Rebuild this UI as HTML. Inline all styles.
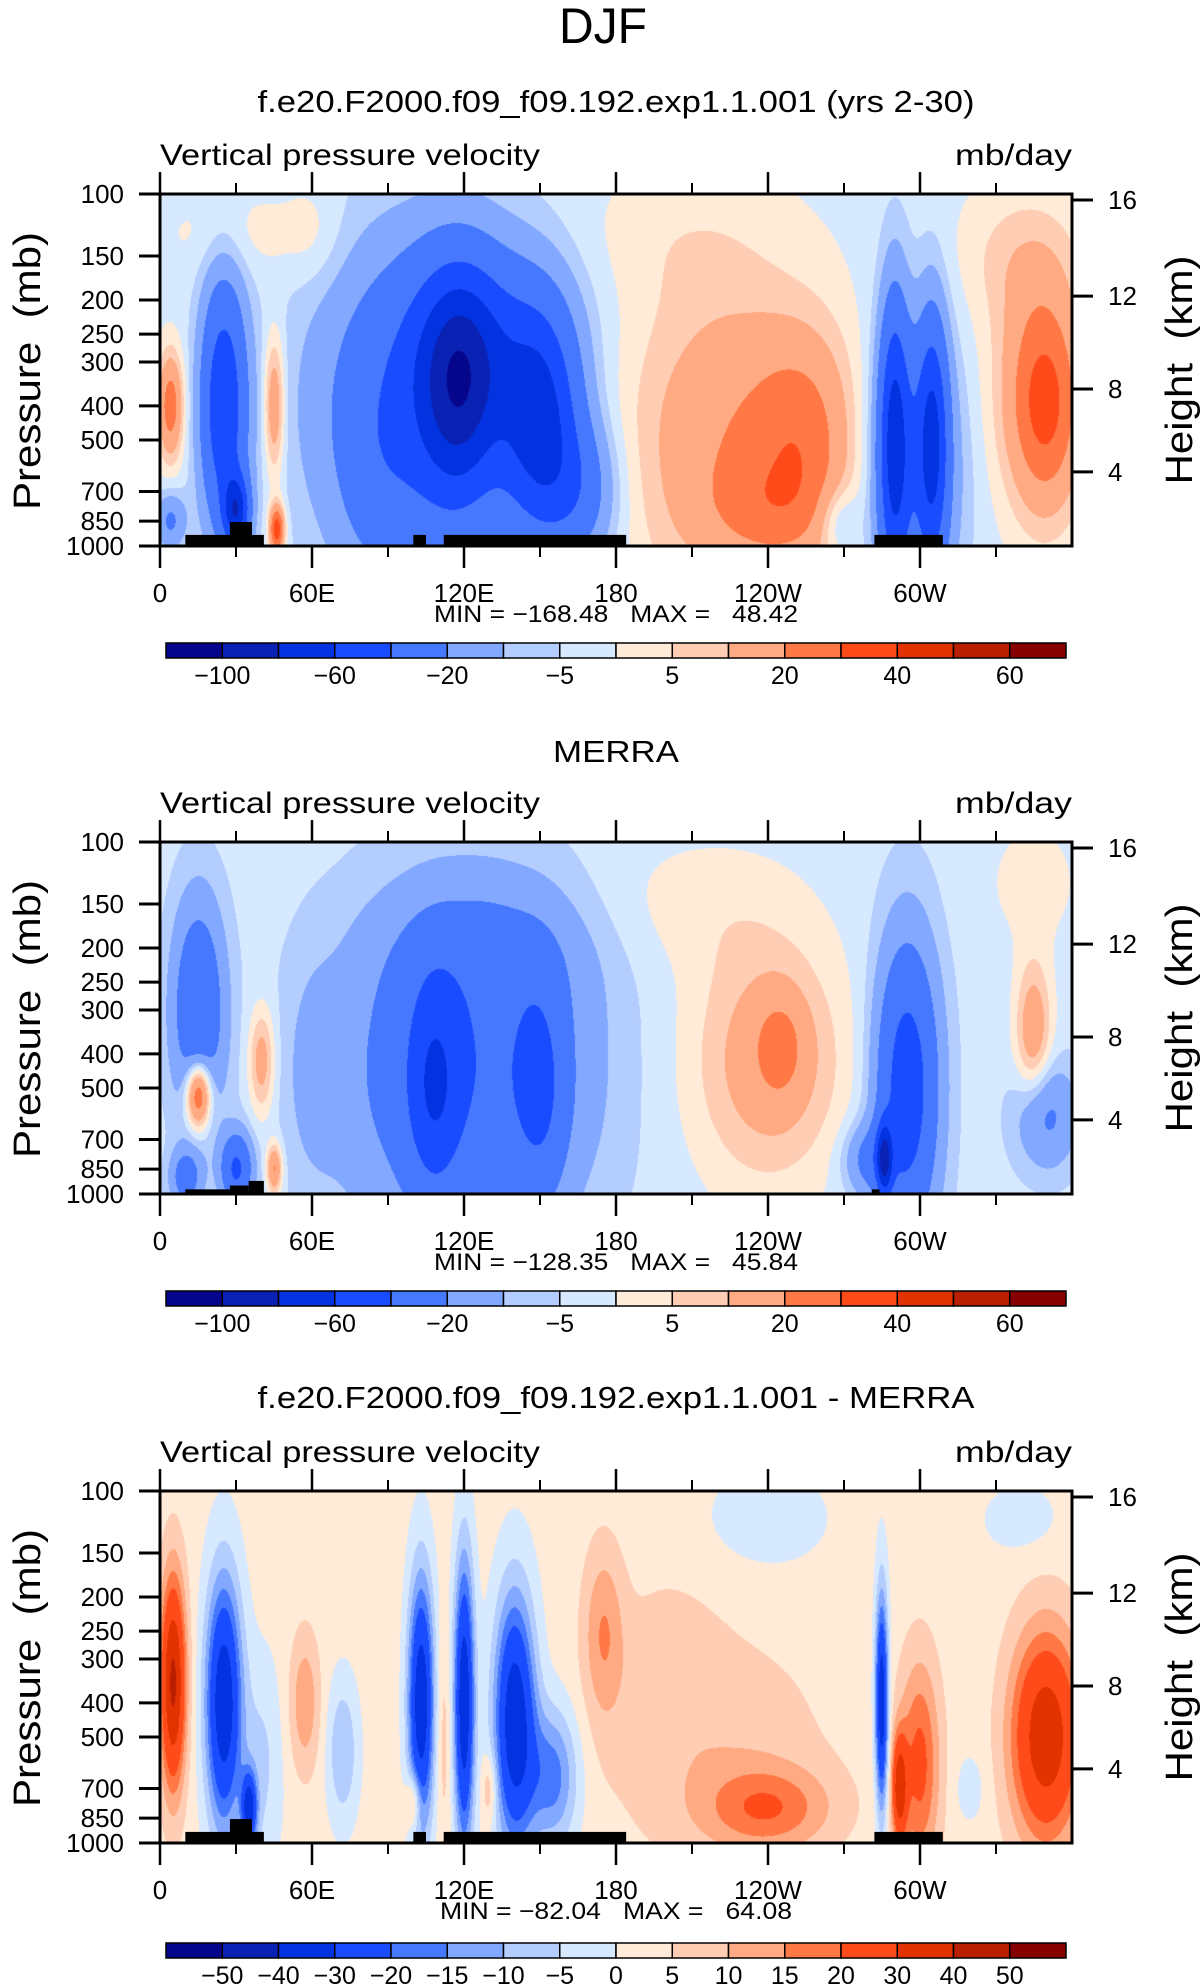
<!DOCTYPE html>
<html><head><meta charset="utf-8"><style>
html,body{margin:0;padding:0;background:#fff;}
#wrap{position:relative;width:1203px;height:1987px;overflow:hidden;background:#fff;}
canvas{position:absolute;left:160px;}
svg{position:absolute;left:0;top:0;}
text{font-family:"Liberation Sans",sans-serif;fill:#000;white-space:pre;}
</style></head><body>
<div id="wrap">
<canvas id="c0" width="912" height="352" style="top:194px"></canvas>
<canvas id="c1" width="912" height="352" style="top:842px"></canvas>
<canvas id="c2" width="912" height="352" style="top:1491px"></canvas>
<svg id="ov" width="1203" height="1987">
<text x="603" y="43" font-size="50" text-anchor="middle" textLength="88" lengthAdjust="spacingAndGlyphs">DJF</text>
</svg>
</div>
<script>
// ---------- data ----------
const LEV_A = [-100,-80,-60,-40,-20,-10,-5,0,5,10,20,30,40,50,60];
const LEV_D = [-50,-40,-30,-20,-15,-10,-5,0,5,10,15,20,30,40,50];
const LAB_A = ['−100','−60','−20','−5','5','20','40','60'];
const LAB_A_IDX = [0,2,4,6,8,10,12,14];
const LAB_D = ['−50','−40','−30','−20','−15','−10','−5','0','5','10','15','20','30','40','50'];
const COLORS = ['#06068c','#0a22b4','#0333e0','#1a4cff','#4678ff','#82a8ff','#b4cdff','#d7e9ff','#ffebd7','#ffcdb4','#ffaa82','#ff7846','#ff4b19','#e13200','#b91e00','#870000'];
const P_TICKS = [100,150,200,250,300,400,500,700,850,1000];
const H_TICKS = [4,8,12,16];
const H_PRESS = [616,358,195,104];
const LON_MAJOR = [0,60,120,180,240,300];
const LON_LABELS = ['0','60E','120E','180','120W','60W'];
const LON_MINOR = [30,90,150,210,270,330];
const TITLES = ['f.e20.F2000.f09_f09.192.exp1.1.001 (yrs 2-30)','MERRA','f.e20.F2000.f09_f09.192.exp1.1.001 - MERRA'];
const MINMAX = ['MIN = −168.48   MAX =   48.42','MIN = −128.35   MAX =   45.84','MIN = −82.04   MAX =   64.08'];
const BG = [-2,-3,2];
// blobs: lon, pressure, amplitude, lon-width, logp-width
const P0_LON=[4,4,25,30,45,46,30,105,118,150,130,165,225,255,240,205,290,305,298,350,340,268,85,60,345];
const P0_P  =[400,850,400,800,400,900,130,400,350,450,250,700,500,500,800,130,500,500,600,400,150,850,700,130,350];
const P0_AMP=[28,-20,-55,-60,22,40,5,-40,-55,-55,-20,-25,20,18,10,4,-55,-50,-25,28,8,-12,-8,5,10];
const P0_SX =[5,6,9,5,4,3,25,40,15,15,30,15,40,20,25,40,6,6,18,14,25,8,15,12,20];
const P0_SU =[.15,.08,.35,.1,.2,.07,.12,.45,.3,.3,.25,.2,.45,.3,.15,.2,.4,.35,.4,.3,.2,.1,.3,.15,.35];
const P1_LON=[15,15,40,45,30,10,120,108,150,130,240,245,210,280,295,286,345,350,345,60];
const P1_P  =[300,520,420,850,850,900,450,500,500,200,420,380,150,800,500,800,350,600,130,450];
const P1_AMP=[-35,45,18,25,-40,-25,-35,-30,-25,-10,18,12,5,-20,-50,-60,20,-20,5,-6];
const P1_SX =[10,5,5,3,6,6,45,10,10,40,30,10,40,10,12,3,7,12,20,10];
const P1_SU =[.3,.1,.15,.07,.1,.08,.45,.3,.3,.2,.35,.15,.2,.1,.4,.1,.2,.15,.2,.3];
const P2_LON=[5,25,35,57,40,72,103,120,140,155,112,130,100,175,240,220,240,285,292,300,350,340,320,200];
const P2_P  =[350,400,800,400,600,550,400,400,450,650,500,700,760,250,800,550,120,400,700,600,500,120,700,300];
const P2_AMP=[40,-40,-35,12,-8,-12,-40,-40,-40,-20,6,10,15,12,15,6.5,-5,-40,30,20,35,-5,-5,4];
const P2_SX =[5,7,3,6,8,6,5,4,8,10,3,3,3,8,25,45,25,2.5,3,8,14,15,6,20];
const P2_SU =[.3,.35,.1,.2,.3,.2,.35,.4,.35,.2,.3,.1,.08,.25,.12,.35,.15,.3,.15,.3,.3,.1,.1,.25];
const TERR0_L0=[10,27.6,100,112,282], TERR0_L1=[41,36.3,105,184,309], TERR0_P=[930,855,930,930,930];
const TERR1_L0=[10,27.6,35,281], TERR1_L1=[27.6,35,41,284], TERR1_P=[970,946,918,970];

// ---------- geometry ----------
const X0=160, X1=1072, PT=194, PB=546;
const OFF=[0,648,1297];
function xOf(lon){return X0+lon/360*(X1-X0);}
function uOf(p){return Math.log10(p/100);}
function yOf(p,k){return OFF[k]+PT+uOf(p)*(PB-PT);}
const NS='http://www.w3.org/2000/svg';
const svg=document.getElementById('ov');
function mk(tag,attrs,parent){const e=document.createElementNS(NS,tag);for(const a in attrs)e.setAttribute(a,attrs[a]);(parent||svg).appendChild(e);return e;}
function hex(c){return [parseInt(c.substr(1,2),16),parseInt(c.substr(3,2),16),parseInt(c.substr(5,2),16)];}
const RGB=COLORS.map(hex);

function drawField(k,L,P,A,SX,SU,lev){
  const cv=document.getElementById('c'+k),ctx=cv.getContext('2d');
  const W=cv.width,H=cv.height,img=ctx.createImageData(W,H);
  const U=P.map(uOf);
  for(let j=0;j<H;j++){const u=j/(H-1);
    for(let i=0;i<W;i++){const lon=i/(W-1)*360;let v=BG[k];
      for(let b=0;b<L.length;b++){const dx=(lon-L[b])/SX[b],du=(u-U[b])/SU[b];const q=dx*dx+du*du;if(q<12)v+=A[b]*Math.exp(-q);}
      let idx=0;while(idx<lev.length&&v>=lev[idx])idx++;
      const c=RGB[idx],o=(j*W+i)*4;img.data[o]=c[0];img.data[o+1]=c[1];img.data[o+2]=c[2];img.data[o+3]=255;}}
  ctx.putImageData(img,0,0);
}
drawField(0,P0_LON,P0_P,P0_AMP,P0_SX,P0_SU,LEV_A);
drawField(1,P1_LON,P1_P,P1_AMP,P1_SX,P1_SU,LEV_A);
drawField(2,P2_LON,P2_P,P2_AMP,P2_SX,P2_SU,LEV_D);

const TERR=[[TERR0_L0,TERR0_L1,TERR0_P],[TERR1_L0,TERR1_L1,TERR1_P],[TERR0_L0,TERR0_L1,TERR0_P]];
const TITLE_Y=[112,762,1408], TITLE_W=[717,126,717];

for(let k=0;k<3;k++){
  const o=OFF[k];
  const g=mk('g',{});
  
  
  const T=TERR[k];
  for(let t=0;t<T[0].length;t++){
    const r=mk('rect',{x:xOf(T[0][t]),y:yOf(T[2][t],k),width:xOf(T[1][t])-xOf(T[0][t]),height:o+PB-yOf(T[2][t],k),fill:'#000'},g);
    
    
  }
  const fr=mk('rect',{x:X0,y:o+PT,width:X1-X0,height:PB-PT,fill:'none',stroke:'#000','stroke-width':3},g);
  
  
  const tt=mk('text',{x:616,y:TITLE_Y[k],'font-size':31,'text-anchor':'middle',textLength:TITLE_W[k],lengthAdjust:'spacingAndGlyphs'},g);
  tt.textContent=TITLES[k];
  
  
  const vl=mk('text',{x:160,y:o+165,'font-size':30,textLength:380,lengthAdjust:'spacingAndGlyphs'},g);
  vl.textContent='Vertical pressure velocity';
  
  
  const ul=mk('text',{x:955,y:o+165,'font-size':30,textLength:117,lengthAdjust:'spacingAndGlyphs'},g);
  ul.textContent='mb/day';
  
  
  P_TICKS.forEach(p=>{const y=yOf(p,k);
    const l=mk('line',{x1:139,x2:X0,y1:y,y2:y,stroke:'#000','stroke-width':3},g);
    
    
    const t=mk('text',{x:124,y:y+9,'font-size':26,'text-anchor':'end'},g);t.textContent=String(p);
    
    });
  H_TICKS.forEach((h,i)=>{const y=yOf(H_PRESS[i],k);
    const l=mk('line',{x1:X1,x2:1093,y1:y,y2:y,stroke:'#000','stroke-width':3},g);
    
    
    const t=mk('text',{x:1108,y:y+9,'font-size':26},g);t.textContent=String(h);
    
    });
  LON_MAJOR.forEach((lon,i)=>{const x=xOf(lon);
    const a=mk('line',{x1:x,x2:x,y1:o+PT,y2:o+PT-22,stroke:'#000','stroke-width':2.5},g);
    
    
    const b=mk('line',{x1:x,x2:x,y1:o+PB,y2:o+PB+22,stroke:'#000','stroke-width':2.5},g);
    
    
    const t=mk('text',{x:x,y:o+602,'font-size':26,'text-anchor':'middle'},g);t.textContent=LON_LABELS[i];
    
    });
  LON_MINOR.forEach(lon=>{const x=xOf(lon);
    const a=mk('line',{x1:x,x2:x,y1:o+PT,y2:o+PT-11,stroke:'#000','stroke-width':2},g);
    
    
    const b=mk('line',{x1:x,x2:x,y1:o+PB,y2:o+PB+11,stroke:'#000','stroke-width':2},g);
    
    });
  const pt=mk('text',{x:0,y:0,'font-size':38,'text-anchor':'middle',transform:'translate(40,'+(o+371)+') rotate(-90)',textLength:278,lengthAdjust:'spacingAndGlyphs'},g);
  pt.textContent='Pressure  (mb)';
  
  
  const ht=mk('text',{x:0,y:0,'font-size':38,'text-anchor':'middle',transform:'translate(1192,'+(o+370)+') rotate(-90)',textLength:229,lengthAdjust:'spacingAndGlyphs'},g);
  ht.textContent='Height  (km)';
  
  
  const mm=mk('text',{x:616,y:o+622,'font-size':24,'text-anchor':'middle',textLength:(k==2?352:364),lengthAdjust:'spacingAndGlyphs'},g);
  mm.textContent=MINMAX[k];
  
  
  const bw=900/16, cy=o+(k==2?646:643);
  for(let c=0;c<16;c++){
    const r=mk('rect',{x:166+c*bw,y:cy,width:bw,height:15,fill:COLORS[c],stroke:'#000','stroke-width':1.5},g);
    
    
  }
  const labs=k==2?LAB_D:LAB_A, idx=k==2?LAB_D.map((_,i)=>i):LAB_A_IDX;
  labs.forEach((s,i)=>{const t=mk('text',{x:166+(idx[i]+1)*bw,y:cy+41,'font-size':25,'text-anchor':'middle'},g);t.textContent=s;
    
    });
}
</script>
</body></html>
